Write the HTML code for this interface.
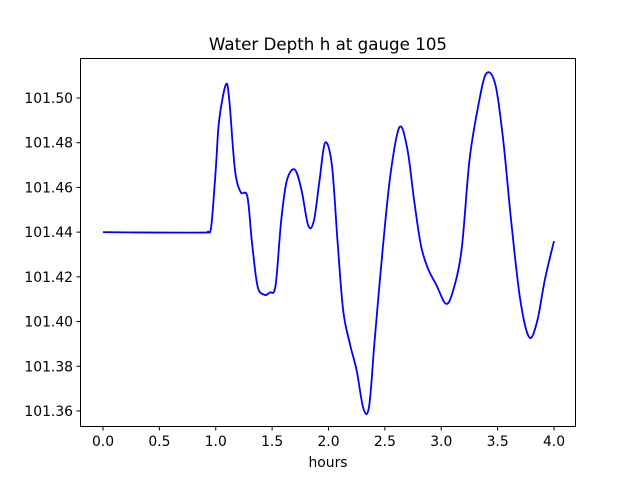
<!DOCTYPE html>
<html><head><meta charset="utf-8"><style>
body{margin:0;background:#fff}
svg text{font-family:"DejaVu Sans","Liberation Sans",sans-serif;fill:#000}
</style></head><body>
<svg id="c" width="640" height="480" xmlns="http://www.w3.org/2000/svg">
<rect width="640" height="480" fill="#fff"/>
<text x="328" y="50" font-size="16.7" text-anchor="middle">Water Depth h at gauge 105</text>
<g id="ax"></g>
<path id="line" fill="none" stroke="#0000ff" stroke-width="1.8"/>
<rect x="80.5" y="58.5" width="495" height="368" fill="none" stroke="#000" stroke-width="1"/>
<text x="328" y="467" font-size="13.9" text-anchor="middle">hours</text>
</svg>
<script>
const times=[0,0.5,0.9,0.93,0.96,1.0,1.03,1.09,1.12,1.17,1.22,1.28,1.32,1.37,1.43,1.48,1.53,1.58,1.63,1.70,1.76,1.82,1.87,1.92,1.97,2.03,2.08,2.13,2.19,2.25,2.31,2.36,2.41,2.48,2.55,2.63,2.70,2.76,2.82,2.88,2.96,3.04,3.10,3.18,3.25,3.33,3.40,3.48,3.55,3.62,3.70,3.78,3.85,3.92,4.0];
const depths=[101.440,101.4398,101.4398,101.4402,101.4425,101.468,101.490,101.506,101.499,101.468,101.458,101.456,101.436,101.416,101.412,101.413,101.416,101.445,101.463,101.468,101.459,101.443,101.445,101.463,101.480,101.470,101.436,101.405,101.390,101.378,101.361,101.362,101.392,101.432,101.466,101.487,101.477,101.454,101.434,101.424,101.416,101.408,101.413,101.432,101.472,101.497,101.511,101.506,101.481,101.445,101.410,101.393,101.400,101.419,101.436];
const xTicks=[0,0.5,1.0,1.5,2.0,2.5,3.0,3.5,4.0];
const yTicks=[101.36,101.38,101.40,101.42,101.44,101.46,101.48,101.50];
const X=t=>103+112.75*t;
const Y=v=>98+(101.50-v)/0.02*44.71;
const NS="http://www.w3.org/2000/svg";
const ax=document.getElementById('ax');
function mk(tag,attrs,txt){const e=document.createElementNS(NS,tag);for(const k in attrs)e.setAttribute(k,attrs[k]);if(txt!==undefined)e.textContent=txt;ax.appendChild(e);return e;}
xTicks.forEach(t=>{
 const l=mk('line',{x1:X(t),x2:X(t),y1:427,y2:430.5,stroke:'#000'});
 
 
 const s=mk('text',{x:X(t),y:446,'font-size':13.9,'text-anchor':'middle'},t.toFixed(1));
 
 
});
yTicks.forEach(v=>{
 const l=mk('line',{x1:76.5,x2:80.5,y1:Y(v),y2:Y(v),stroke:'#000'});
 
 
 const s=mk('text',{x:73,y:Y(v)+5,'font-size':13.9,'text-anchor':'end'},v.toFixed(2));
 
 
});
const P=times.map((t,i)=>[X(t),Y(depths[i])]);
let d='M'+P[0][0]+','+P[0][1];
for(let i=0;i<P.length-1;i++){
 const p0=P[Math.max(0,i-1)],p1=P[i],p2=P[i+1],p3=P[Math.min(P.length-1,i+2)];
 const c1=[p1[0]+(p2[0]-p0[0])/6,p1[1]+(p2[1]-p0[1])/6];
 const c2=[p2[0]-(p3[0]-p1[0])/6,p2[1]-(p3[1]-p1[1])/6];
 d+=` C${c1[0]},${c1[1]} ${c2[0]},${c2[1]} ${p2[0]},${p2[1]}`;
}
document.getElementById('line').setAttribute('d',d);
</script>
</body></html>
